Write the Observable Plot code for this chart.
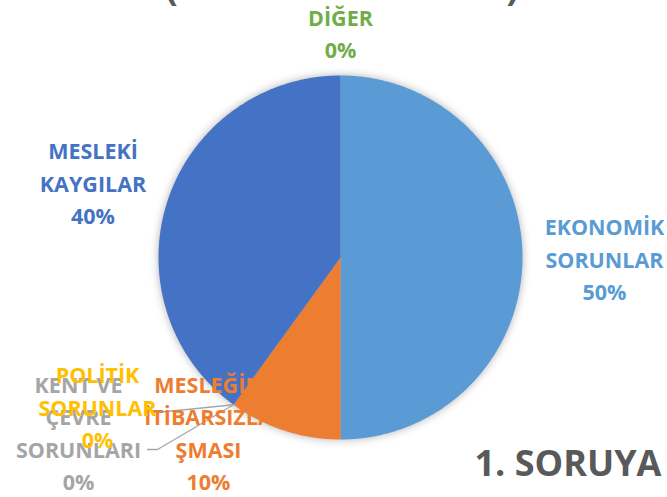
<!DOCTYPE html>
<html><head><meta charset="utf-8">
<script src="https://cdn.jsdelivr.net/npm/d3@7"></script>
<script src="https://cdn.jsdelivr.net/npm/@observablehq/plot@0.6"></script>
<style>html,body{margin:0;padding:0;background:#fff;overflow:hidden}</style>
</head><body><div id="chart"></div>
<script>
// ---- data ----
const categories = ["EKONOMİK SORUNLAR","MESLEĞİN İTİBARSIZLAŞMASI","KENT VE ÇEVRE SORUNLARI","POLİTİK SORUNLAR","MESLEKİ KAYGILAR","DİĞER"];
const labelLines = ["EKONOMİK\nSORUNLAR","MESLEĞİN\nİTİBARSIZLA\nŞMASI","KENT VE\nÇEVRE\nSORUNLARI","POLİTİK\nSORUNLAR","MESLEKİ\nKAYGILAR","DİĞER"];
const values = [50,10,0,0,40,0];
const colors = ["#5B9BD5","#ED7D31","#A5A5A5","#FFC000","#4472C4","#70AD47"];
const titleFragments = ["(", ")"];
const footerText = "1. SORUYA";

// ---- layout (pixels relative to pie centre, y up) ----
const R = 182;
const labelPos = [[264,0],[-132,-173.5],[-262,-173.5],[-243,-148],[-247.5,76],[0,226]];
const leaderEnds = {2: [[-183,-192],[-193,-192]], 3: [[-183,-155]]};
const titlePos = [[-169,258],[172,258]];
const footerPos = [134,-218];

const pie = d3.pie().sort(null).value(d => d)(values);
const arcPt = a => [R*Math.sin(a), R*Math.cos(a)];

const slicePts = [];
pie.forEach((p,i) => {
  if (p.value <= 0) return;
  slicePts.push({cat: categories[i], x: 0, y: 0});
  const n = Math.max(2, Math.ceil((p.endAngle - p.startAngle) / 0.01));
  for (let k = 0; k <= n; k++) {
    const a = p.startAngle + (p.endAngle - p.startAngle) * k / n;
    const [x,y] = arcPt(a);
    slicePts.push({cat: categories[i], x, y});
  }
});

const leaders = [];
Object.entries(leaderEnds).forEach(([i, pts]) => {
  const [x0,y0] = arcPt(pie[i].startAngle);
  leaders.push({id: i, x: x0, y: y0});
  pts.forEach(([x,y]) => leaders.push({id: i, x, y}));
});

const labels = categories.map((c,i) => ({
  cat: c, text: labelLines[i] + "\n" + values[i] + "%", x: labelPos[i][0], y: labelPos[i][1]
}));
const titles = titleFragments.map((t,i) => ({t, x: titlePos[i][0], y: titlePos[i][1]}));

const font = "'Open Sans', sans-serif";
const chart = Plot.plot({
  width: 667, height: 497,
  margin: 0,
  x: {domain: [-340, 327], axis: null},
  y: {domain: [-240, 257], axis: null},
  color: {domain: categories, range: colors},
  style: {background: "#fff", fontFamily: font},
  marks: [
    Plot.line(slicePts, {x: "x", y: "y", z: "cat", fill: "cat", stroke: "none", curve: "linear"}),
    Plot.line(leaders, {x: "x", y: "y", z: "id", stroke: "#A6A6A6", strokeWidth: 1.3}),
    Plot.text(labels, {x: "x", y: "y", text: "text", fill: "cat", fontSize: 21.5, fontWeight: 700, lineHeight: 1.51, lineAnchor: "middle", textAnchor: "middle"}),
    Plot.text(titles, {x: "x", y: "y", text: "t", fill: "#595959", fontSize: 37, fontWeight: 700, lineAnchor: "bottom"}),
    Plot.text([footerText], {x: footerPos[0], y: footerPos[1], text: d => d, fill: "#595959", fontSize: 36, fontWeight: 700, lineAnchor: "bottom", textAnchor: "start"})
  ]
});
const pieG = chart.querySelector('g[aria-label="line"]');
if (pieG) pieG.style.filter = "drop-shadow(0px 0px 4px rgba(0,0,0,0.3))";
document.getElementById("chart").appendChild(chart);
</script>
</body></html>
